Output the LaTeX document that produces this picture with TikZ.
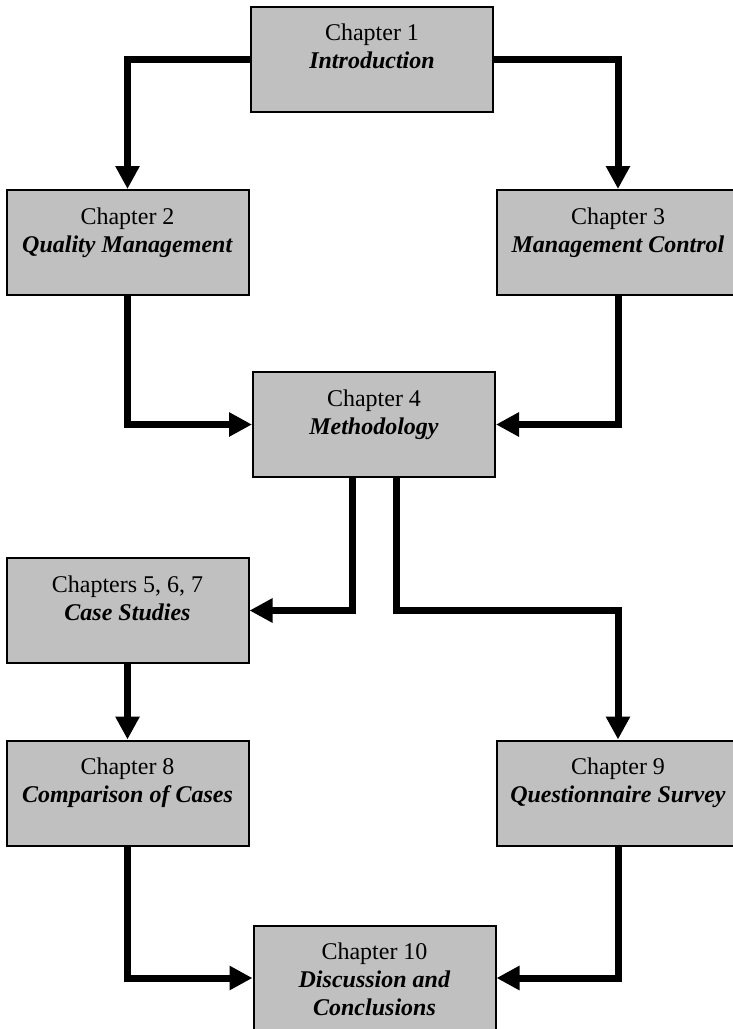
\documentclass[tikz,border=0pt]{standalone}
\usepackage{fontspec}
\setmainfont{Liberation Serif}
\usetikzlibrary{arrows.meta}
\definecolor{boxgray}{RGB}{192,192,192}
% strut for the last line of a box: same height, almost no depth
\newcommand\laststrut{\rule[-0.4pt]{0pt}{19.6pt}}
\begin{document}
\begin{tikzpicture}[x=1pt,y=-1pt,
  chap/.style={draw=black, line width=2pt, fill=boxgray,
    minimum width=242pt, minimum height=105pt, inner sep=0pt,
    align=center, font=\fontsize{24}{28}\selectfont},
  conn/.style={line width=7pt, line join=miter,
    -{Triangle[width=23pt,length=23pt]}}]
\useasboundingbox (0,0) rectangle (732,1029);

% chapter boxes
\node[chap] (c1)  at (372,59)     {\strut Chapter 1\\\strut\textbf{\textit{Introduction}}\\\laststrut};
\node[chap] (c2)  at (127.5,242.5){\strut Chapter 2\\\strut\textbf{\textit{Quality Management}}\\\laststrut};
\node[chap] (c3)  at (618,242.5)  {\strut Chapter 3\\\strut\textbf{\textit{Management Control}}\\\laststrut};
\node[chap] (c4)  at (374,424.5)  {\strut Chapter 4\\\strut\textbf{\textit{Methodology}}\\\laststrut};
\node[chap] (c5)  at (127.5,610.5){\strut Chapters 5, 6, 7\\\strut\textbf{\textit{Case Studies}}\\\laststrut};
\node[chap] (c8)  at (127.5,793)  {\strut Chapter 8\\\strut\textbf{\textit{Comparison of Cases}}\\\laststrut};
\node[chap] (c9)  at (618,793)    {\strut Chapter 9\\\strut\textbf{\textit{Questionnaire Survey}}\\\laststrut};
\node[chap] (c10) at (374.5,978)  {\strut Chapter 10\\\strut\textbf{\textit{Discussion and}}\\\laststrut\textbf{\textit{Conclusions}}};

% connectors
\draw[conn] (c1.west) -| (c2.north);
\draw[conn] (c1.east) -| (c3.north);
\draw[conn] (c2.south) |- (c4.west);
\draw[conn] (c3.south) |- (c4.east);
\draw[conn] ([xshift=-22pt]c4.south) |- (c5.east);
\coordinate (split) at (c9.north |- c5.east);
\draw[conn] ([xshift=22pt]c4.south) |- (split) -- (c9.north);
\draw[conn] (c5.south) -- (c8.north);
\draw[conn] (c8.south) |- (c10.west);
\draw[conn] (c9.south) |- (c10.east);
\end{tikzpicture}
\end{document}
